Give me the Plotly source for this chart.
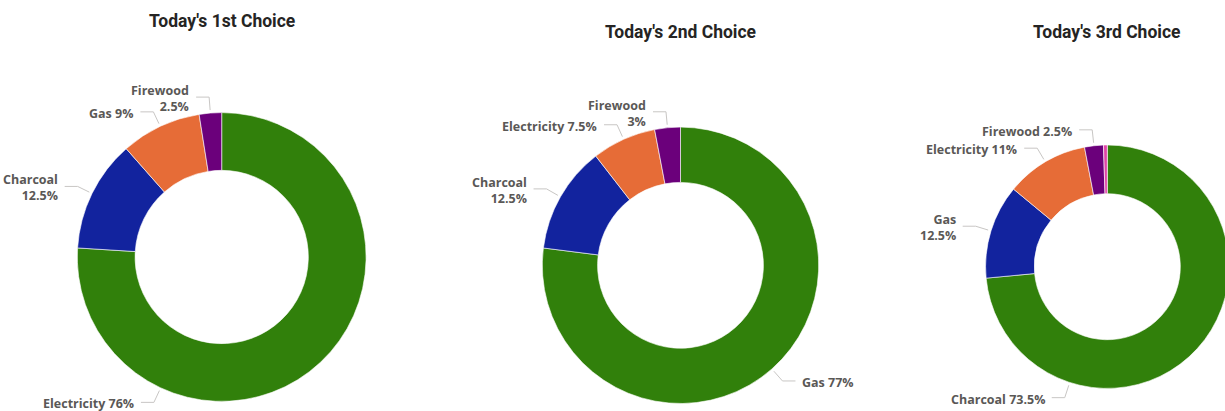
import math
import plotly.graph_objects as go

W, H = 1232, 411  # figure slightly wider than the window so the 3rd donut is clipped on the right

# ---------------- data ----------------
titles = ["Today's 1st Choice", "Today's 2nd Choice", "Today's 3rd Choice"]

labels_1 = ["Electricity", "Charcoal", "Gas", "Firewood"]
values_1 = [76, 12.5, 9, 2.5]

labels_2 = ["Gas", "Charcoal", "Electricity", "Firewood"]
values_2 = [77, 12.5, 7.5, 3]

labels_3 = ["Charcoal", "Gas", "Electricity", "Firewood", "Other"]
values_3 = [73.5, 12.5, 11, 2.5, 0.5]

# ---------------- styling / layout ----------------
slice_colors = ["#31800B", "#12239E", "#E66C37", "#6B007B", "#E044A7"]
label_color = "#5A5856"
leader_color = "#C8C6C4"
title_color = "#252423"

# pie domains in pixels (x0, x1, y0, y1) -- y measured from top
pie_boxes = [
    (77.3, 366.1, 112.6, 401.4),
    (542.3, 818.7, 127.1, 403.5),
    (985.6, 1229.0, 145.0, 388.4),
]
title_pos = [(221.7, 21), (680.5, 32), (1107.3, 32)]
# separator between name and value in each label (None = no label shown)
label_sep = [
    [" ", "<br>", " ", "<br>"],
    [" ", "<br>", " ", "<br>"],
    [" ", "<br>", " ", " ", None],
]
# angle (deg clockwise from 12 o'clock) where the leader of a label touches; default mid-slice
angle_override = [{0: 205.0}, {}, {0: 198.0}]

series = [(labels_1, values_1), (labels_2, values_2), (labels_3, values_3)]

fig = go.Figure()
shapes = []
annotations = []


def px2paper(x, y):
    return x / W, 1 - y / H


for i, ((labs, vals), box) in enumerate(zip(series, pie_boxes)):
    x0, x1, y0, y1 = box
    fig.add_trace(go.Pie(
        labels=labs,
        values=vals,
        hole=0.6,
        sort=False,
        direction="clockwise",
        rotation=0,
        textinfo="none",
        hoverinfo="label+percent",
        marker=dict(colors=slice_colors[:len(vals)], line=dict(color="white", width=0.6)),
        domain=dict(x=[x0 / W, x1 / W], y=[1 - y1 / H, 1 - y0 / H]),
        showlegend=False,
    ))
    cx = (x0 + x1) / 2
    cy = (y0 + y1) / 2
    r = min(x1 - x0, y1 - y0) / 2

    total = sum(vals)
    cum = 0.0
    for j, (lab, v) in enumerate(zip(labs, vals)):
        start = cum
        cum += v
        sep = label_sep[i][j]
        if sep is None:
            continue
        theta = angle_override[i].get(j, (start + v / 2) / total * 360.0)
        t = math.radians(theta)
        ux, uy = math.sin(t), -math.cos(t)
        p0 = (cx + (r + 3) * ux, cy + (r + 3) * uy)
        p1 = (cx + (r + 16) * ux, cy + (r + 16) * uy)
        side = 1 if ux >= 0 else -1
        p2 = (p1[0] + side * 13, p1[1])
        a, b = px2paper(*p0)
        c, d = px2paper(*p1)
        e, f = px2paper(*p2)
        shapes.append(dict(type="path", xref="paper", yref="paper",
                           path=f"M {a},{b} L {c},{d} L {e},{f}",
                           line=dict(color=leader_color, width=1)))
        tx, ty = px2paper(p2[0] + side * 5, p1[1] + 1.5)
        annotations.append(dict(
            x=tx, y=ty, xref="paper", yref="paper",
            text=f"{lab}{sep}{v:g}%",
            showarrow=False,
            xanchor="left" if side > 0 else "right",
            yanchor="middle",
            align="left" if side > 0 else "right",
            font=dict(family="Open Sans, sans-serif", size=12.5, color=label_color, weight=700),
        ))

for t_text, (tx, ty) in zip(titles, title_pos):
    px, py = px2paper(tx, ty)
    annotations.append(dict(
        x=px, y=py, xref="paper", yref="paper", text=t_text, showarrow=False,
        xanchor="center", yanchor="middle",
        font=dict(family="Roboto, sans-serif", size=17.5, color=title_color, weight=700),
    ))

fig.update_layout(
    width=W, height=H,
    margin=dict(l=0, r=0, t=0, b=0),
    paper_bgcolor="white",
    plot_bgcolor="white",
    shapes=shapes,
    annotations=annotations,
    showlegend=False,
)

fig.write_html(
    "out.html",
    config={"displayModeBar": False},
    post_script="document.body.style.margin='0';document.body.style.overflow='hidden';",
)
